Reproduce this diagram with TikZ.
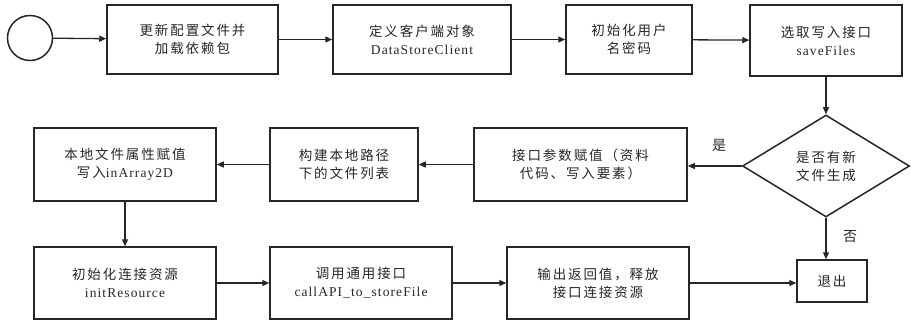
\documentclass[tikz,border=0pt]{standalone}
\usepackage{fontspec}
\setmainfont{Liberation Serif}[LetterSpace=8]
\newfontfamily\cjk{Noto Sans CJK SC}[LetterSpace=14]
\usetikzlibrary{arrows.meta,shapes.geometric}
\begin{document}
\begin{tikzpicture}[x=1pt,y=-1pt,
  every node/.style={font=\fontsize{13.5}{18}\selectfont\cjk, text=black!85, align=center},
  box/.style={draw=black!85, line width=1.5pt, rectangle, inner sep=2pt},
  arr/.style={-{Triangle[length=7pt,width=6pt]}, line width=1.3pt, draw=black!85},
  lbl/.style={font=\fontsize{14}{16}\selectfont\cjk}]
\useasboundingbox (0,0) rectangle (911,321);
\node[draw=black!85, line width=1.5pt, circle, minimum size=45pt, inner sep=0] (start) at (30,38) {};
\node[box, minimum width=171pt, minimum height=69pt] (b1) at (192.5,39.5) {更新配置文件并\\加载依赖包};
\node[box, minimum width=178pt, minimum height=69pt] (b2) at (422,39.5) {定义客户端对象\\{\rmfamily DataStoreClient}};
\node[box, minimum width=126pt, minimum height=69pt] (b3) at (629,39.5) {初始化用户\\名密码};
\node[box, minimum width=152pt, minimum height=71pt] (b4) at (826,40.5) {选取写入接口\\{\rmfamily saveFiles}};
\node[draw=black!85, line width=1.5pt, diamond, minimum width=167pt, minimum height=102pt, inner sep=0] (dia) at (826,166) {是否有新\\文件生成};
\node[box, minimum width=213pt, minimum height=73pt] (ba) at (580.5,164.5) {接口参数赋值（资料\\代码、写入要素）};
\node[box, minimum width=148pt, minimum height=73pt] (bb) at (344,164.5) {构建本地路径\\下的文件列表};
\node[box, minimum width=182pt, minimum height=73pt] (bc) at (125,164.5) {本地文件属性赋值\\写入{\rmfamily inArray2D}};
\node[box, minimum width=182pt, minimum height=72pt] (bd) at (125,283) {初始化连接资源\\{\rmfamily initResource}};
\node[box, minimum width=182pt, minimum height=72pt] (be) at (361,283) {调用通用接口\\{\rmfamily callAPI\_to\_storeFile}};
\node[box, minimum width=182pt, minimum height=72pt] (bf) at (598,283) {输出返回值，释放\\接口连接资源};
\node[box, minimum width=70pt, minimum height=42pt] (bg) at (832,281) {退出};
\node[lbl] (yes) at (719,145) {是};
\node[lbl] (no) at (850,237) {否};
\draw[arr] (start) -- (b1);
\draw[arr] (b1) -- (b2);
\draw[arr] (b2) -- (b3);
\draw[arr] (b3) -- (b4);
\draw[arr] (b4) -- (dia);
\draw[arr] (dia.west) -- (dia.west -| ba.east);
\draw[arr] (ba) -- (bb);
\draw[arr] (bb) -- (bc);
\draw[arr] (bc) -- (bd);
\draw[arr] (bd) -- (be);
\draw[arr] (be) -- (bf);
\draw[arr] (bf.east) -- (bf.east -| bg.west);
\draw[arr] (dia.south) -- (dia.south |- bg.north);
\end{tikzpicture}
\end{document}
